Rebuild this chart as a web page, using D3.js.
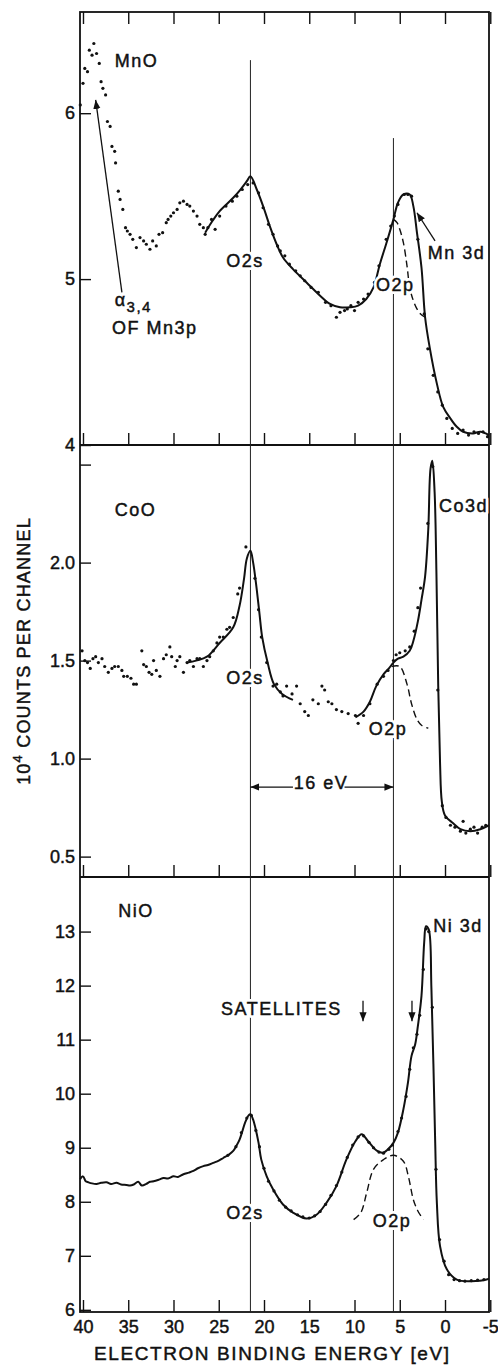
<!DOCTYPE html>
<html>
<head>
<meta charset="utf-8">
<script src="https://cdn.jsdelivr.net/npm/d3@7"></script>
<style>
body { margin: 0; background: #fff; }
text { font-family: "Liberation Sans", Arial, sans-serif; fill: #111; stroke: #111; stroke-width: 0.45px; }
.halo { font-size: 18px; letter-spacing: 1.5px; fill: #fff; stroke: #fff; stroke-width: 6px; stroke-linejoin: round; }
.lab { font-size: 18px; letter-spacing: 1.5px; }
</style>
</head>
<body>
<svg id="chart" width="498" height="1365"></svg>
<script>
// energy axis (eV), shared by the three panels
var energyTicks = [40, 35, 30, 25, 20, 15, 10, 5, 0, -5];
var energyTickLabels = ["40", "35", "30", "25", "20", "15", "10", "5", "0", "-5"];

// y ticks per panel
var mnoTicks = [4, 5, 6];
var mnoTickLabels = ["4", "5", "6"];
var coTicks = [0.5, 1.0, 1.5, 2.0, 2.5];
var coTickLabels = ["0.5", "1.0", "1.5", "2.0", ""];
var niTicks = [6, 7, 8, 9, 10, 11, 12, 13];
var niTickLabels = ["6", "7", "8", "9", "10", "11", "12", "13"];

// peak positions (eV)
var o2sEnergy = 21.5;
var o2pEnergy = 5.7;

// MnO  [binding energy, 10^4 counts]
var mnoFit = [[26.5,5.28],[25.7,5.35],[24.9,5.41],[23.4,5.49],[22.6,5.54],[21.9,5.59],[21.5,5.62],[20.8,5.54],[20.1,5.44],[19.3,5.31],[18.6,5.21],[17.9,5.13],[16.8,5.06],[15.3,4.98],[13.8,4.90],[12.7,4.85],[11.6,4.83],[10.5,4.83],[9.6,4.84],[8.7,4.88],[7.9,4.95],[7.2,5.09],[6.4,5.23],[5.7,5.36],[5.2,5.46],[4.6,5.51],[3.9,5.51],[3.5,5.44],[3.1,5.28],[2.6,5.07],[2.2,4.77],[1.7,4.59],[0.9,4.37],[0.2,4.23],[-0.6,4.16],[-1.3,4.11],[-2.0,4.08],[-3.1,4.07],[-3.9,4.08],[-4.86,4.06]];
var mnoO2p = [[5.7,5.36],[5.3,5.34],[5.0,5.30],[4.6,5.22],[4.2,5.08],[3.9,4.95],[3.5,4.87],[3.1,4.82],[2.7,4.79],[2.2,4.77]];
var mnoDots = [[40.3,6.05],[40.0,6.18],[39.8,6.27],[39.5,6.25],[39.3,6.38],[39.0,6.35],[38.8,6.42],[38.5,6.36],[38.2,6.30],[38.0,6.19],[37.8,6.15],[37.5,6.11],[37.3,5.95],[37.0,5.92],[36.8,5.80],[36.5,5.77],[36.4,5.70],[36.1,5.53],[35.9,5.48],[35.6,5.42],[35.3,5.31],[35.1,5.29],[34.8,5.27],[34.5,5.24],[34.1,5.19],[33.7,5.25],[33.3,5.23],[33.0,5.21],[32.6,5.18],[32.3,5.23],[31.9,5.20],[31.6,5.27],[31.2,5.28],[30.8,5.34],[30.6,5.36],[30.3,5.38],[30.0,5.40],[29.6,5.42],[29.3,5.46],[28.9,5.47],[28.5,5.45],[28.2,5.44],[27.8,5.41],[27.4,5.38],[27.1,5.33],[26.7,5.31],[26.5,5.27],[26.2,5.31],[25.8,5.36],[25.4,5.30],
  [24.9,5.38],[24.2,5.44],[23.5,5.47],[23.0,5.50],[22.4,5.54],[21.8,5.57],[21.2,5.58],[20.6,5.52],[20.1,5.43],[19.5,5.33],[19.0,5.27],[18.5,5.20],[18.2,5.17],[17.7,5.14],[17.2,5.09],[16.5,5.05],[16.0,5.02],[15.5,4.99],[14.8,4.95],[14.0,4.92],[13.2,4.86],[12.6,4.84],[12.0,4.77],[11.6,4.80],[11.1,4.81],[10.8,4.82],[10.4,4.84],[10.0,4.81],[9.6,4.86],[9.0,4.88],[8.5,4.91],[7.8,4.98],[7.3,5.08],[6.5,5.24],[6.0,5.32],[5.6,5.38],[5.2,5.45],[4.5,5.51],[4.1,5.51],[3.7,5.50],[3.0,5.24],[2.3,4.79],[1.9,4.58],[1.3,4.42],[0.8,4.32],[0.3,4.24],[-0.2,4.16],[-0.8,4.10],[-1.4,4.07],[-2.0,4.09],[-2.6,4.06],[-3.2,4.08],[-3.7,4.07],[-4.2,4.08],[-4.7,4.05]];

// CoO
var coFitO2s = [[28.5,1.49],[27.5,1.50],[26.3,1.52],[24.9,1.59],[23.4,1.67],[22.7,1.78],[22.2,1.92],[21.9,2.02],[21.5,2.06],[21.2,2.00],[20.9,1.90],[20.5,1.74],[20.2,1.62],[19.6,1.49],[18.9,1.38],[18.0,1.33],[16.8,1.30]];
var coFitValence = [[9.9,1.21],[9.0,1.24],[8.3,1.29],[7.6,1.37],[6.8,1.43],[6.2,1.46],[5.7,1.49],[5.2,1.51],[4.6,1.52],[3.9,1.55],[3.5,1.60],[3.0,1.70],[2.6,1.81],[2.2,1.93],[1.85,2.17],[1.6,2.48],[1.4,2.52],[1.15,2.36],[0.95,1.95],[0.75,1.37],[0.55,0.98],[0.35,0.78],[0.0,0.71],[-0.9,0.67],[-1.7,0.64],[-2.8,0.63],[-3.9,0.64],[-4.86,0.66]];
var coO2p = [[5.9,1.47],[5.0,1.47],[4.2,1.38],[3.7,1.28],[3.1,1.20],[2.6,1.17],[1.85,1.155]];
var coDots = [[40.1,1.55],[39.8,1.50],[39.5,1.49],[39.2,1.46],[38.9,1.51],[38.6,1.52],[38.3,1.49],[37.9,1.51],[37.6,1.47],[37.2,1.44],[36.8,1.46],[36.5,1.47],[36.1,1.47],[35.7,1.45],[35.5,1.42],[35.1,1.42],[34.7,1.41],[34.4,1.38],[34.1,1.38],[33.5,1.55],[33.3,1.48],[33.0,1.47],[32.7,1.44],[32.4,1.43],[32.2,1.50],[31.9,1.45],[31.5,1.42],[31.1,1.51],[30.8,1.53],[30.4,1.57],[30.2,1.52],[29.8,1.47],[29.6,1.50],[29.3,1.52],[28.9,1.44],[28.5,1.49],[28.2,1.50],[27.8,1.47],[27.4,1.51],[27.1,1.51],[26.7,1.47],[26.3,1.50],[26.0,1.52],[25.6,1.55],[25.2,1.59],[24.9,1.62],[24.5,1.62],[24.1,1.66],[23.8,1.67],[23.4,1.72],[22.9,1.84],[22.7,1.87],[22.0,2.08],
  [21.0,1.92],[20.6,1.76],[20.3,1.62],[19.7,1.49],[19.0,1.37],[18.6,1.38],[18.2,1.34],[17.9,1.32],[17.5,1.37],[16.9,1.33],[16.4,1.37],[16.0,1.28],[15.5,1.24],[15.1,1.22],[14.6,1.30],[14.0,1.28],[13.6,1.37],[13.3,1.35],[12.9,1.29],[12.5,1.28],[12.0,1.25],[11.4,1.24],[10.7,1.23],[9.9,1.22],[9.6,1.18],
  [9.0,1.22],[8.3,1.28],[7.5,1.38],[6.8,1.42],[6.3,1.45],[5.7,1.50],[5.4,1.53],[5.0,1.54],[4.4,1.55],[3.9,1.57],[3.4,1.65],[3.0,1.77],[2.7,1.87],[1.9,2.2],[1.35,2.49],[0.8,1.35],[0.3,0.76],[-0.1,0.70],[-0.6,0.66],[-1.1,0.65],[-1.7,0.63],[-2.0,0.68],[-2.3,0.62],[-2.8,0.64],[-3.2,0.65],[-3.6,0.62],[-4.1,0.65],[-4.5,0.66]];

// NiO
var niFit = [[40.3,8.42],[40.0,8.47],[39.7,8.38],[39.4,8.36],[39.0,8.34],[38.5,8.33],[38.0,8.35],[37.4,8.36],[36.9,8.33],[36.3,8.35],[35.8,8.32],[35.2,8.31],[34.8,8.30],[34.4,8.32],[33.9,8.37],[33.5,8.30],[33.0,8.33],[32.6,8.37],[32.2,8.38],[31.6,8.41],[31.1,8.44],[30.6,8.43],[30.0,8.47],[29.5,8.46],[28.9,8.51],[28.3,8.54],[27.8,8.57],[27.3,8.62],[26.7,8.66],[26.2,8.68],[25.6,8.72],[25.0,8.76],[24.5,8.81],[23.9,8.87],[23.4,8.94],[23.0,9.05],[22.7,9.15],[22.4,9.30],[22.1,9.46],[21.7,9.60],[21.5,9.62],[21.2,9.52],[21.0,9.40],[20.6,9.09],[20.3,8.78],[19.7,8.47],[19.0,8.23],[17.9,7.95],[16.8,7.80],[15.3,7.69],[14.2,7.76],[13.1,7.98],[12.0,8.29],[10.9,8.78],[9.9,9.12],[9.2,9.25],[8.5,9.12],[7.5,8.94],[6.8,8.91],[6.3,8.97],[5.7,9.09],[5.2,9.28],[4.6,9.71],[4.1,10.2],[3.7,10.7],[3.3,10.91],[3.0,11.25],[2.6,11.81],[2.3,12.8],[2.1,13.1],[1.8,13.04],[1.5,11.93],[1.1,9.21],[0.9,7.98],[0.55,7.18],[-0.2,6.75],[-1.3,6.56],[-2.8,6.53],[-4.6,6.56],[-4.86,6.58]];
var niO2p = [[10.1,7.67],[9.3,7.80],[8.65,8.17],[7.9,8.60],[6.8,8.78],[5.7,8.86],[4.6,8.75],[4.05,8.47],[3.5,8.04],[3.0,7.83],[2.4,7.67]];
var niDots = [[24.0,8.86],[23.1,9.02],[22.5,9.28],[21.9,9.55],[21.4,9.60],[20.9,9.32],[20.5,9.02],[20.0,8.62],[19.5,8.38],[18.9,8.20],[18.3,8.03],[17.6,7.90],[17.0,7.83],[16.3,7.76],[15.7,7.72],[15.0,7.70],[14.4,7.74],[13.8,7.82],[13.2,7.95],[12.6,8.12],[12.0,8.30],[11.4,8.55],[10.8,8.82],[10.2,9.05],[9.6,9.20],[9.0,9.22],[8.4,9.10],[7.9,9.00],[7.3,8.92],[6.8,8.90],[6.2,8.97],[5.8,9.05],[5.2,9.30],[4.8,9.55],[4.3,9.95],[3.9,10.45],[3.5,10.85],[3.1,11.10],[2.8,11.45],[2.4,12.3],[2.1,13.05],[1.8,13.0],[1.4,11.6],[1.0,8.6],[0.6,7.3],[0.1,6.9],[-0.4,6.65],[-1.0,6.56],[-1.6,6.54],[-2.2,6.53],[-2.9,6.54],[-3.6,6.55],[-4.3,6.56]];

var left = 80, right = 489;
var x = d3.scaleLinear().domain([40.33, -4.86]).range([left, right]);

var panels = [
  { top: 12,  bottom: 445,  dom: [4, 6.61],     ticks: mnoTicks, labels: mnoTickLabels },
  { top: 445, bottom: 877,  dom: [0.396, 2.6],  ticks: coTicks,  labels: coTickLabels },
  { top: 877, bottom: 1312, dom: [5.96, 14.01], ticks: niTicks,  labels: niTickLabels }
];
panels.forEach(function(p) {
  p.y = d3.scaleLinear().domain(p.dom).range([p.bottom, p.top]);
});

var svg = d3.select("#chart");

var defs = svg.append("defs");
defs.append("marker").attr("id", "head")
    .attr("viewBox", "0 0 10 10").attr("refX", 10).attr("refY", 5)
    .attr("markerWidth", 9).attr("markerHeight", 9)
    .attr("markerUnits", "userSpaceOnUse").attr("orient", "auto")
  .append("path").attr("d", "M0,1L10,5L0,9Z").attr("fill", "#111");

function clean(g) {
  g.select(".domain").remove();
  g.attr("font-family", null).attr("font-size", 18);
  g.selectAll(".tick line").attr("stroke", "#111").attr("stroke-width", 1.4);
}

// axes
panels.forEach(function(p, i) {
  svg.append("g")
      .attr("transform", "translate(" + left + ",0)")
      .call(d3.axisLeft(p.y).tickValues(p.ticks)
        .tickFormat(function(d, j) { return p.labels[j]; })
        .tickSizeInner(-11).tickSizeOuter(0).tickPadding(5))
      .call(clean);

  svg.append("g")
      .attr("transform", "translate(0," + p.bottom + ")")
      .call(d3.axisBottom(x).tickValues(energyTicks)
        .tickFormat(function(d, j) { return i == 2 ? energyTickLabels[j] : ""; })
        .tickSizeInner(-12).tickSizeOuter(0).tickPadding(8))
      .call(clean);
});
svg.append("g")
    .attr("transform", "translate(0," + panels[0].top + ")")
    .call(d3.axisTop(x).tickValues(energyTicks).tickFormat(function() { return ""; })
      .tickSizeInner(-12).tickSizeOuter(0))
    .call(clean);

// frame
svg.append("rect")
    .attr("x", left).attr("y", panels[0].top)
    .attr("width", right - left).attr("height", panels[2].bottom - panels[0].top)
    .attr("fill", "none").attr("stroke", "#111").attr("stroke-width", 1.8);
svg.selectAll("line.sep")
    .data([panels[0].bottom, panels[1].bottom])
    .enter().append("line").attr("class", "sep")
    .attr("x1", left).attr("x2", right)
    .attr("y1", function(d) { return d; }).attr("y2", function(d) { return d; })
    .attr("stroke", "#111").attr("stroke-width", 1.8);

// vertical reference lines for O2s and O2p
var refTops = [[6.32, 5.85], [null, null], [null, null]];
panels.forEach(function(p, i) {
  [o2sEnergy, o2pEnergy].forEach(function(e, k) {
    var t = refTops[i][k];
    svg.append("line")
        .attr("x1", x(e)).attr("x2", x(e))
        .attr("y1", t == null ? p.top : p.y(t)).attr("y2", p.bottom)
        .attr("stroke", "#222").attr("stroke-width", 1);
  });
});

// curves
var line = d3.line()
    .x(function(d) { return x(d[0]); })
    .curve(d3.curveCatmullRom.alpha(0.5));

function drawCurve(p, data, dashed) {
  svg.append("path")
      .datum(data)
      .attr("d", line.y(function(d) { return p.y(d[1]); }))
      .attr("fill", "none")
      .attr("stroke", "#111")
      .attr("stroke-width", dashed ? 1.4 : 2)
      .attr("stroke-dasharray", dashed ? "7,4" : null);
}
function drawDots(p, data) {
  svg.append("g").selectAll("circle")
      .data(data)
      .enter().append("circle")
      .attr("cx", function(d) { return x(d[0]); })
      .attr("cy", function(d) { return p.y(d[1]); })
      .attr("r", 1.6)
      .attr("fill", "#111");
}

drawCurve(panels[0], mnoFit, false);
drawCurve(panels[0], mnoO2p, true);
drawDots(panels[0], mnoDots);

drawCurve(panels[1], coFitO2s, false);
drawCurve(panels[1], coFitValence, false);
drawCurve(panels[1], coO2p, true);
drawDots(panels[1], coDots);

drawCurve(panels[2], niFit, false);
drawCurve(panels[2], niO2p, true);
drawDots(panels[2], niDots);

// labels: white halo underneath, then the text
function label(p, e, v, txt, anchor, sub) {
  var out;
  ["halo", "lab"].forEach(function(cls) {
    out = svg.append("text").attr("class", cls)
        .attr("x", x(e)).attr("y", p.y(v))
        .attr("text-anchor", anchor || "start")
        .text(txt);
    if (sub) out.append("tspan").attr("dy", 6).attr("font-size", 15).text(sub);
  });
  return out;
}
function arrow(p, e1, v1, e2, v2) {
  svg.append("line")
      .attr("x1", x(e1)).attr("y1", p.y(v1))
      .attr("x2", x(e2)).attr("y2", p.y(v2))
      .attr("stroke", "#111").attr("stroke-width", 1.3)
      .attr("marker-end", "url(#head)");
}

// MnO
label(panels[0], 36.5, 6.28, "MnO");
label(panels[0], 22.1, 5.07, "O2s", "middle");
label(panels[0], 5.5, 4.93, "O2p", "middle");
label(panels[0], 1.9, 5.12, "Mn 3d");
label(panels[0], 36.5, 4.84, "α", "start", "3,4");
label(panels[0], 36.8, 4.67, "OF Mn3p");
arrow(panels[0], 35.7, 4.92, 38.6, 6.08);
arrow(panels[0], 1.1, 5.23, 3.1, 5.40);

// CoO
label(panels[1], 36.5, 2.24, "CoO");
label(panels[1], 22.1, 1.38, "O2s", "middle");
label(panels[1], 6.3, 1.12, "O2p", "middle");
label(panels[1], 0.66, 2.26, "Co3d");
svg.selectAll("text.gap").remove();
label(panels[1], 13.7, 0.845, "16 eV", "middle");
arrow(panels[1], 16.8, 0.855, o2sEnergy, 0.855);
arrow(panels[1], 11.1, 0.855, o2pEnergy, 0.855);

// NiO
label(panels[2], 36.1, 13.27, "NiO");
label(panels[2], 1.3, 12.99, "Ni 3d");
label(panels[2], 24.75, 11.45, "SATELLITES");
label(panels[2], 22.1, 7.69, "O2s", "middle");
label(panels[2], 5.85, 7.54, "O2p", "middle");
arrow(panels[2], 9.06, 11.72, 9.06, 11.34);
arrow(panels[2], 3.65, 11.72, 3.65, 11.34);

// axis titles
svg.append("text")
    .attr("x", (left + right) / 2 - 13).attr("y", 1360)
    .attr("text-anchor", "middle")
    .attr("font-size", 19)
    .attr("textLength", 355).attr("lengthAdjust", "spacing")
    .text("ELECTRON BINDING ENERGY [eV]");

var yt = svg.append("text")
    .attr("transform", "translate(30,651) rotate(-90)")
    .attr("text-anchor", "middle")
    .attr("font-size", 18)
    .attr("letter-spacing", 1.2);
yt.append("tspan").text("10");
yt.append("tspan").attr("dy", -8).attr("font-size", 13).text("4");
yt.append("tspan").attr("dy", 8).text(" COUNTS PER CHANNEL");
</script>
</body>
</html>
